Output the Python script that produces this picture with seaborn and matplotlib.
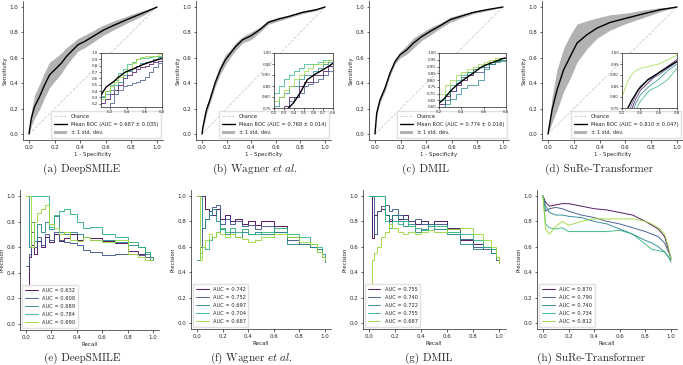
import numpy as np
import matplotlib
matplotlib.use("Agg")
import matplotlib.pyplot as plt
import seaborn as sns

# ---- ROC mean curves (top row) ----
a_fpr = [0, 0.018, 0.044, 0.083, 0.122, 0.161, 0.2, 0.253, 0.292, 0.331, 0.383, 0.435, 0.5, 0.578, 0.656, 0.734, 0.813, 0.891, 1.0]
a_tpr = [0, 0.124, 0.216, 0.295, 0.387, 0.466, 0.505, 0.558, 0.61, 0.65, 0.703, 0.729, 0.768, 0.816, 0.853, 0.887, 0.921, 0.953, 1.0]
a_std = [0, 0.06, 0.09, 0.1, 0.1, 0.1, 0.09, 0.08, 0.07, 0.06, 0.05, 0.05, 0.045, 0.04, 0.035, 0.03, 0.025, 0.02, 0]

b_fpr = [0, 0.008, 0.036, 0.064, 0.106, 0.148, 0.19, 0.232, 0.274, 0.33, 0.4, 0.469, 0.539, 0.623, 0.707, 0.818, 0.93, 1.0]
b_tpr = [0, 0.058, 0.189, 0.268, 0.4, 0.505, 0.584, 0.637, 0.689, 0.742, 0.774, 0.821, 0.879, 0.905, 0.926, 0.958, 0.979, 1.0]
b_std = [0, 0.02, 0.03, 0.03, 0.03, 0.035, 0.04, 0.03, 0.03, 0.025, 0.03, 0.02, 0.015, 0.015, 0.01, 0.01, 0.008, 0]

c_fpr = [0, 0.013, 0.039, 0.078, 0.117, 0.157, 0.196, 0.248, 0.3, 0.366, 0.431, 0.509, 0.587, 0.666, 0.77, 0.875, 1.0]
c_tpr = [0, 0.163, 0.268, 0.361, 0.479, 0.571, 0.624, 0.663, 0.716, 0.768, 0.808, 0.853, 0.9, 0.926, 0.958, 0.979, 1.0]
c_std = [0, 0.02, 0.02, 0.025, 0.02, 0.02, 0.025, 0.035, 0.04, 0.03, 0.03, 0.02, 0.02, 0.015, 0.01, 0.008, 0]

d_fpr = [0, 0.031, 0.07, 0.121, 0.173, 0.225, 0.302, 0.38, 0.483, 0.612, 0.742, 0.871, 1.0]
d_tpr = [0, 0.189, 0.347, 0.505, 0.611, 0.716, 0.782, 0.834, 0.879, 0.913, 0.947, 0.979, 1.0]
d_std = [0, 0.1, 0.16, 0.17, 0.17, 0.15, 0.11, 0.08, 0.06, 0.04, 0.03, 0.015, 0]

roc_auc = ["0.687 ± 0.035", "0.768 ± 0.014", "0.774 ± 0.016", "0.810 ± 0.047"]

# ---- per-fold ROC curves shown in the insets ----
a_inset_fpr = [0.1, 0.15, 0.2, 0.25, 0.3, 0.35, 0.4, 0.45, 0.5, 0.55, 0.6, 0.65, 0.7, 0.75, 0.8]
a_fold1 = [0.22, 0.28, 0.35, 0.42, 0.5, 0.6, 0.66, 0.7, 0.75, 0.78, 0.8, 0.82, 0.86, 0.88, 0.9]
a_fold2 = [0.12, 0.15, 0.22, 0.35, 0.42, 0.48, 0.5, 0.52, 0.55, 0.58, 0.62, 0.7, 0.78, 0.84, 0.88]
a_fold3 = [0.3, 0.35, 0.42, 0.5, 0.55, 0.65, 0.72, 0.76, 0.8, 0.84, 0.86, 0.88, 0.9, 0.93, 0.95]
a_fold4 = [0.32, 0.4, 0.5, 0.58, 0.68, 0.75, 0.82, 0.86, 0.9, 0.92, 0.92, 0.94, 0.95, 0.96, 0.97]
a_fold5 = [0.28, 0.4, 0.48, 0.55, 0.62, 0.7, 0.75, 0.85, 0.9, 0.93, 0.95, 0.95, 0.96, 0.98, 0.98]

b_inset_fpr = [0.2, 0.25, 0.3, 0.35, 0.4, 0.45, 0.5, 0.55, 0.6, 0.65, 0.7, 0.75, 0.8]
b_fold1 = [0.68, 0.72, 0.76, 0.8, 0.8, 0.85, 0.87, 0.87, 0.9, 0.9, 0.92, 0.94, 0.95]
b_fold2 = [0.65, 0.7, 0.74, 0.78, 0.8, 0.82, 0.85, 0.86, 0.87, 0.88, 0.9, 0.92, 0.94]
b_fold3 = [0.76, 0.8, 0.82, 0.85, 0.85, 0.88, 0.9, 0.9, 0.92, 0.93, 0.95, 0.96, 0.96]
b_fold4 = [0.82, 0.85, 0.88, 0.9, 0.92, 0.93, 0.95, 0.95, 0.95, 0.96, 0.97, 0.97, 0.98]
b_fold5 = [0.78, 0.8, 0.83, 0.85, 0.88, 0.9, 0.92, 0.93, 0.95, 0.95, 0.96, 0.97, 0.98]

c_inset_fpr = [0.2, 0.25, 0.3, 0.35, 0.4, 0.45, 0.5, 0.55, 0.6, 0.65, 0.7, 0.75, 0.8]
c_fold1 = [0.62, 0.68, 0.72, 0.76, 0.8, 0.84, 0.88, 0.9, 0.92, 0.93, 0.95, 0.96, 0.97]
c_fold2 = [0.6, 0.65, 0.72, 0.78, 0.82, 0.86, 0.86, 0.86, 0.9, 0.92, 0.94, 0.95, 0.96]
c_fold3 = [0.58, 0.62, 0.66, 0.7, 0.74, 0.76, 0.76, 0.8, 0.88, 0.92, 0.93, 0.94, 0.96]
c_fold4 = [0.65, 0.7, 0.76, 0.8, 0.84, 0.86, 0.88, 0.9, 0.92, 0.93, 0.94, 0.95, 0.97]
c_fold5 = [0.7, 0.76, 0.8, 0.84, 0.86, 0.88, 0.9, 0.92, 0.93, 0.95, 0.96, 0.96, 0.97]

d_inset_fpr = [0.2, 0.25, 0.3, 0.35, 0.4, 0.5, 0.6, 0.7, 0.8]
d_fold1 = [0.6, 0.68, 0.74, 0.79, 0.83, 0.87, 0.91, 0.94, 0.97]
d_fold2 = [0.62, 0.7, 0.76, 0.81, 0.85, 0.88, 0.9, 0.93, 0.96]
d_fold3 = [0.6, 0.66, 0.72, 0.77, 0.81, 0.85, 0.88, 0.92, 0.95]
d_fold4 = [0.55, 0.62, 0.68, 0.74, 0.78, 0.83, 0.85, 0.88, 0.93]
d_fold5 = [0.8, 0.86, 0.9, 0.92, 0.93, 0.94, 0.95, 0.97, 0.99]

# ---- precision-recall curves (bottom row) ----
pr_recall = [0.0, 0.02, 0.04, 0.06, 0.09, 0.12, 0.15, 0.18, 0.22, 0.26, 0.3, 0.35, 0.4, 0.45, 0.5, 0.6, 0.7, 0.8, 0.88, 0.94, 0.98, 1.0]

e_prec1 = [0.3, 0.52, 0.62, 0.55, 0.65, 0.6, 0.68, 0.64, 0.7, 0.65, 0.67, 0.7, 0.66, 0.68, 0.67, 0.65, 0.63, 0.57, 0.55, 0.56, 0.52, 0.5]
e_prec2 = [0.45, 0.55, 0.72, 0.6, 0.68, 0.62, 0.7, 0.66, 0.72, 0.66, 0.64, 0.63, 0.62, 0.58, 0.56, 0.54, 0.55, 0.55, 0.54, 0.52, 0.5, 0.5]
e_prec3 = [1.0, 0.6, 0.8, 0.65, 0.78, 0.72, 0.8, 0.74, 0.84, 0.72, 0.7, 0.72, 0.7, 0.68, 0.66, 0.66, 0.64, 0.62, 0.6, 0.55, 0.52, 0.5]
e_prec4 = [1.0, 1.0, 1.0, 1.0, 1.0, 1.0, 1.0, 0.76, 0.85, 0.88, 0.9, 0.86, 0.8, 0.75, 0.76, 0.7, 0.68, 0.64, 0.6, 0.56, 0.52, 0.5]
e_prec5 = [1.0, 1.0, 0.6, 0.8, 0.87, 0.9, 0.93, 0.78, 0.75, 0.7, 0.72, 0.66, 0.65, 0.68, 0.66, 0.64, 0.66, 0.55, 0.52, 0.5, 0.5, 0.5]
e_auc = ["0.632", "0.608", "0.689", "0.784", "0.690"]

f_prec1 = [1.0, 1.0, 1.0, 0.9, 0.88, 0.85, 0.9, 0.82, 0.85, 0.8, 0.82, 0.78, 0.8, 0.77, 0.8, 0.76, 0.68, 0.62, 0.62, 0.58, 0.52, 0.48]
f_prec2 = [0.5, 0.6, 0.75, 0.82, 0.88, 0.91, 0.93, 0.78, 0.82, 0.78, 0.8, 0.76, 0.77, 0.74, 0.76, 0.72, 0.65, 0.62, 0.6, 0.56, 0.52, 0.5]
f_prec3 = [1.0, 1.0, 0.75, 0.82, 0.85, 0.9, 0.8, 0.74, 0.7, 0.72, 0.68, 0.72, 0.7, 0.72, 0.7, 0.72, 0.62, 0.62, 0.6, 0.58, 0.54, 0.5]
f_prec4 = [0.5, 0.55, 0.6, 0.58, 0.65, 0.68, 0.72, 0.75, 0.72, 0.75, 0.72, 0.74, 0.7, 0.7, 0.72, 0.75, 0.7, 0.68, 0.62, 0.6, 0.52, 0.48]
f_prec5 = [1.0, 0.5, 0.6, 0.65, 0.7, 0.68, 0.72, 0.7, 0.68, 0.7, 0.68, 0.66, 0.64, 0.65, 0.68, 0.7, 0.68, 0.64, 0.62, 0.56, 0.52, 0.5]
f_auc = ["0.742", "0.752", "0.697", "0.704", "0.687"]

g_prec1 = [1.0, 0.67, 0.85, 0.88, 0.9, 0.85, 0.8, 0.85, 0.82, 0.85, 0.8, 0.78, 0.8, 0.78, 0.8, 0.75, 0.65, 0.62, 0.6, 0.58, 0.52, 0.48]
g_prec2 = [1.0, 1.0, 0.7, 0.88, 0.92, 0.93, 0.88, 0.9, 0.85, 0.82, 0.8, 0.82, 0.78, 0.76, 0.78, 0.74, 0.66, 0.6, 0.58, 0.55, 0.5, 0.47]
g_prec3 = [1.0, 1.0, 1.0, 1.0, 1.0, 0.85, 0.82, 0.85, 0.8, 0.76, 0.78, 0.72, 0.74, 0.78, 0.74, 0.7, 0.62, 0.58, 0.6, 0.55, 0.52, 0.48]
g_prec4 = [1.0, 1.0, 1.0, 1.0, 1.0, 0.8, 0.75, 0.8, 0.78, 0.8, 0.76, 0.75, 0.73, 0.76, 0.76, 0.72, 0.7, 0.65, 0.6, 0.58, 0.52, 0.48]
g_prec5 = [0.25, 0.5, 0.55, 0.6, 0.68, 0.72, 0.78, 0.75, 0.72, 0.7, 0.72, 0.7, 0.72, 0.73, 0.72, 0.74, 0.75, 0.7, 0.65, 0.6, 0.52, 0.47]
g_auc = ["0.755", "0.740", "0.722", "0.755", "0.687"]

h_recall = [0, 0.02, 0.05, 0.1, 0.15, 0.2, 0.3, 0.4, 0.5, 0.6, 0.7, 0.8, 0.85, 0.9, 0.95, 0.98, 1.0]
h_prec1 = [1.0, 0.95, 0.92, 0.93, 0.94, 0.94, 0.92, 0.9, 0.89, 0.87, 0.85, 0.8, 0.77, 0.74, 0.68, 0.58, 0.5]
h_prec2 = [1.0, 0.88, 0.9, 0.91, 0.9, 0.88, 0.85, 0.83, 0.8, 0.78, 0.75, 0.72, 0.7, 0.68, 0.63, 0.56, 0.52]
h_prec3 = [1.0, 0.92, 0.87, 0.85, 0.85, 0.84, 0.83, 0.8, 0.78, 0.74, 0.7, 0.65, 0.63, 0.6, 0.56, 0.52, 0.48]
h_prec4 = [1.0, 0.78, 0.75, 0.74, 0.75, 0.72, 0.72, 0.72, 0.72, 0.73, 0.7, 0.62, 0.58, 0.57, 0.56, 0.52, 0.5]
h_prec5 = [1.0, 0.74, 0.7, 0.76, 0.8, 0.77, 0.8, 0.82, 0.82, 0.82, 0.82, 0.8, 0.78, 0.75, 0.7, 0.6, 0.5]
h_auc = ["0.870", "0.790", "0.740", "0.734", "0.812"]

captions = ["(a) DeepSMILE", r"(b) Wagner $\mathit{et\ al.}$", "(c) DMIL", "(d) SuRe-Transformer",
            "(e) DeepSMILE", r"(f) Wagner $\mathit{et\ al.}$", "(g) DMIL", "(h) SuRe-Transformer"]

# estilo
sns.set_style("ticks")
plt.rcParams.update({
    "font.family": ["DejaVu Sans"],
    "font.size": 4,
    "axes.linewidth": 0.5,
    "axes.edgecolor": "#222222",
    "xtick.major.size": 1.8, "ytick.major.size": 1.8,
    "xtick.major.width": 0.5, "ytick.major.width": 0.5,
    "xtick.major.pad": 1.5, "ytick.major.pad": 1.5,
    "axes.labelpad": 1.5,
    "mathtext.fontset": "cm",
})
cores = [plt.cm.viridis(v) for v in (0.0, 0.25, 0.45, 0.65, 0.85)]

W, H = 683, 365
fig = plt.figure(figsize=(W / 100, H / 100), dpi=100)


def eixo(x0, x1, y1, y0):
    # pixel position of data 0 and 1 -> axes with 5% margin
    mx = (x1 - x0) * 0.05
    my = (y0 - y1) * 0.05
    l, r, t, b = x0 - mx, x1 + mx, y1 - my, y0 + my
    ax = fig.add_axes([l / W, 1 - b / H, (r - l) / W, (b - t) / H])
    ax.set_xlim(-0.05, 1.05)
    ax.set_ylim(-0.05, 1.05)
    ax.set_xticks(np.arange(0, 1.01, 0.2))
    ax.set_yticks(np.arange(0, 1.01, 0.2))
    ax.xaxis.set_major_formatter("{x:.1f}")
    ax.yaxis.set_major_formatter("{x:.1f}")
    sns.despine(ax=ax)
    return ax


def caixa(l, r, t, b):
    return fig.add_axes([l / W, 1 - b / H, (r - l) / W, (b - t) / H])


def painel_roc(pos, ipos, fpr, tpr, std, auc, igrid, folds, ixlim, iylim, ixt, iyt, ifmt, degraus):
    ax = eixo(*pos)
    fpr = np.array(fpr)
    tpr = np.array(tpr)
    std = np.array(std)
    ax.plot([0, 1], [0, 1], ls="--", color="#cccccc", lw=0.6, label="Chance")
    sns.lineplot(x=fpr, y=tpr, ax=ax, color="black", lw=1.0, estimator=None, sort=False,
                 label="Mean ROC (AUC = %s)" % auc)
    ax.fill_between(fpr, np.maximum(tpr - std, 0), np.minimum(tpr + std, 1),
                    color="grey", alpha=0.6, lw=0, label="± 1 std. dev.")
    ax.legend(loc="lower right", fontsize=3.7, frameon=True, edgecolor="#dddddd",
              framealpha=0.9, borderpad=0.5, handlelength=2.5, labelspacing=0.6, fancybox=False)
    ax.set_xlabel("1 - Specificity")
    ax.set_ylabel("Sensitivity")

    ins = caixa(*ipos)
    ds = "steps-post" if degraus else "default"
    for k, f in enumerate(folds):
        sns.lineplot(x=igrid, y=f, ax=ins, color=cores[k], lw=0.6, alpha=0.85,
                     estimator=None, sort=False, drawstyle=ds)
    sns.lineplot(x=fpr, y=tpr, ax=ins, color="black", lw=1.0, estimator=None, sort=False)
    ins.set_xlim(*ixlim)
    ins.set_ylim(*iylim)
    ins.set_xticks(ixt)
    ins.set_yticks(iyt)
    ins.xaxis.set_major_formatter(ifmt[0])
    ins.yaxis.set_major_formatter(ifmt[1])
    ins.tick_params(labelsize=2.8, length=1.2, pad=1)
    for s in ins.spines.values():
        s.set_linewidth(0.5)


def painel_pr(pos, recall, precs, aucs, degraus):
    ax = eixo(*pos)
    ds = "steps-post" if degraus else "default"
    for k, p in enumerate(precs):
        sns.lineplot(x=recall, y=p, ax=ax, color=cores[k], lw=0.7, alpha=0.9, estimator=None,
                     sort=False, drawstyle=ds, label="AUC = " + aucs[k])
    ax.legend(loc="lower left", fontsize=3.7, frameon=True, edgecolor="#dddddd",
              framealpha=0.9, borderpad=0.5, handlelength=2.5, labelspacing=0.6, fancybox=False)
    ax.set_xlabel("Recall")
    ax.set_ylabel("Precision")


# linha de cima: ROC
painel_roc((29, 157, 7, 134), (101, 162, 53, 107), a_fpr, a_tpr, a_std, roc_auc[0],
           a_inset_fpr, [a_fold1, a_fold2, a_fold3, a_fold4, a_fold5],
           (0.1, 0.8), (0.15, 1.0), [0.2, 0.4, 0.6, 0.8], np.arange(0.2, 1.01, 0.1),
           ("{x:.1f}", "{x:.1f}"), True)
painel_roc((202, 325, 7, 134), (274, 333, 53, 108), b_fpr, b_tpr, b_std, roc_auc[1],
           b_inset_fpr, [b_fold1, b_fold2, b_fold3, b_fold4, b_fold5],
           (0.2, 0.8), (0.75, 1.0), np.arange(0.2, 0.81, 0.1), np.arange(0.75, 1.001, 0.05),
           ("{x:.1f}", "{x:.2f}"), True)
painel_roc((375, 503, 7, 134), (439, 506, 53, 107), c_fpr, c_tpr, c_std, roc_auc[2],
           c_inset_fpr, [c_fold1, c_fold2, c_fold3, c_fold4, c_fold5],
           (0.2, 0.8), (0.6, 1.0), [0.2, 0.4, 0.6, 0.8], np.arange(0.6, 1.001, 0.05),
           ("{x:.1f}", "{x:.2f}"), True)
painel_roc((548, 677, 7, 134), (622, 677, 53, 108), d_fpr, d_tpr, d_std, roc_auc[3],
           d_inset_fpr, [d_fold1, d_fold2, d_fold3, d_fold4, d_fold5],
           (0.2, 0.8), (0.75, 1.0), [0.2, 0.4, 0.6, 0.8], np.arange(0.75, 1.001, 0.05),
           ("{x:.1f}", "{x:.2f}"), False)

# linha de baixo: precision-recall
painel_pr((26, 153, 196, 324), pr_recall, [e_prec1, e_prec2, e_prec3, e_prec4, e_prec5], e_auc, True)
painel_pr((197, 325, 196, 323), pr_recall, [f_prec1, f_prec2, f_prec3, f_prec4, f_prec5], f_auc, True)
painel_pr((369, 499, 196, 323), pr_recall, [g_prec1, g_prec2, g_prec3, g_prec4, g_prec5], g_auc, True)
painel_pr((543, 671, 196, 323), h_recall, [h_prec1, h_prec2, h_prec3, h_prec4, h_prec5], h_auc, False)

# legendas das figuras
cx = [82, 255, 426, 599, 82, 252, 429, 591]
for i, txt in enumerate(captions):
    y = 169 if i < 4 else 358
    fig.text(cx[i] / W, 1 - y / H, txt, ha="center", va="center", fontsize=8, family="cmr10")

fig.savefig("out.png", dpi=100)
